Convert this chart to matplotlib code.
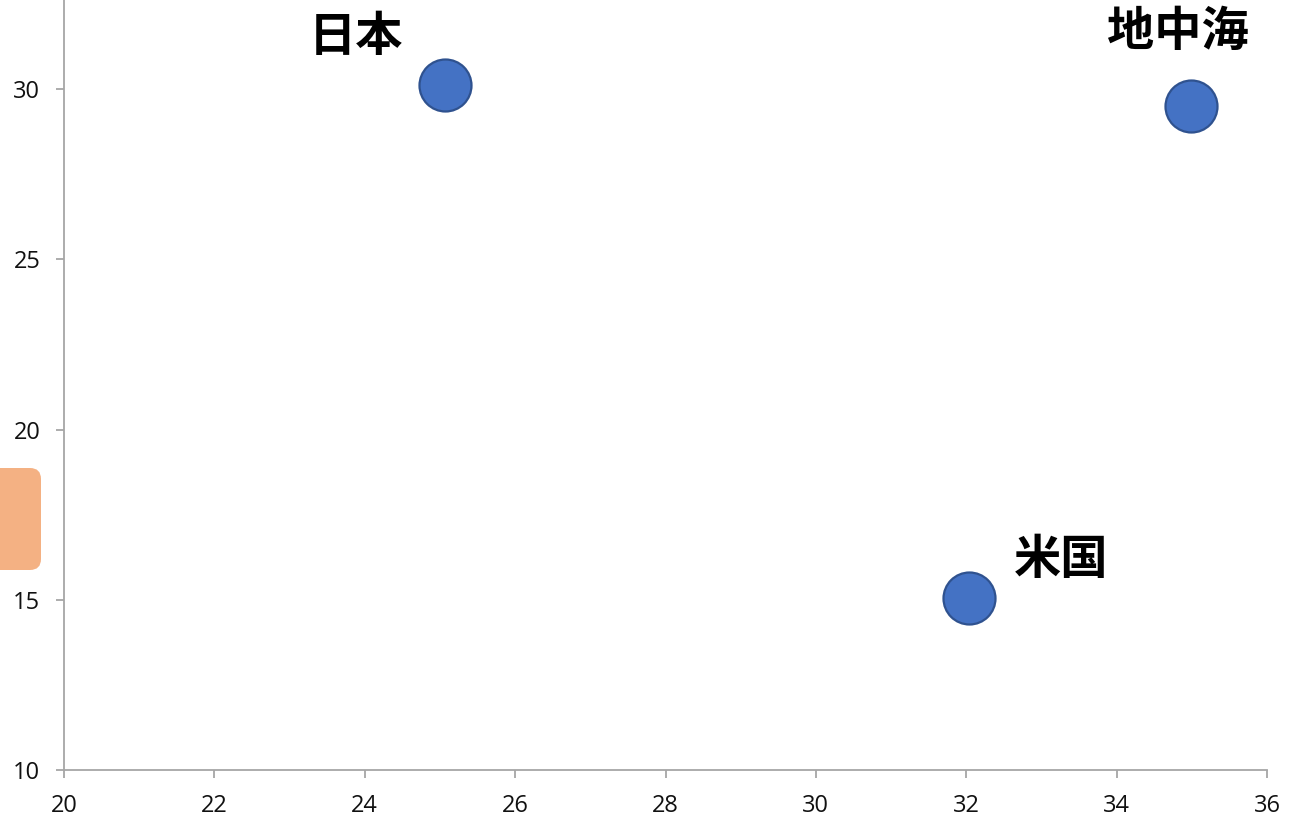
import matplotlib
matplotlib.use("Agg")
import matplotlib.pyplot as plt
from matplotlib.patches import FancyBboxPatch
from matplotlib.transforms import IdentityTransform

# 地域ごとの座標
regions = ["日本", "地中海", "米国"]
x_vals = [25.07, 34.99, 32.03]
y_vals = [30.13, 29.49, 15.06]

x_ticks = [20, 22, 24, 26, 28, 30, 32, 34, 36]
y_ticks = [10, 15, 20, 25, 30]

# ラベルの位置(マーカーからのずれ, px)
label_offsets = {"日本": (-89, 48), "地中海": (-13, 74), "米国": (93, 38)}

W, H, DPI = 1293, 819, 100
fig = plt.figure(figsize=(W / DPI, H / DPI), dpi=DPI)
ax = fig.add_axes([64 / W, (H - 770) / H, (1267 - 64) / W, 770 / H])

ax.scatter(x_vals, y_vals, s=(52 * 72 / DPI) ** 2, color="#4472C4",
           edgecolor="#2F528F", linewidth=1.6, zorder=3)

for name, x, y in zip(regions, x_vals, y_vals):
    dx, dy = label_offsets[name]
    ax.annotate(name, (x, y), xytext=(dx * 72 / DPI, dy * 72 / DPI),
                textcoords="offset points", ha="center", va="center",
                fontsize=34, fontweight="bold",
                family=["Noto Sans CJK JP", "DejaVu Sans"])

ax.set_xlim(20, 36)
ax.set_ylim(10, 10 + 770 / 34.05)
ax.set_xticks(x_ticks)
ax.set_yticks(y_ticks)

for side in ("top", "right"):
    ax.spines[side].set_visible(False)
for side in ("left", "bottom"):
    ax.spines[side].set_color("#A6A6A6")
    ax.spines[side].set_linewidth(1.3)
ax.tick_params(direction="out", length=6, width=1.3, color="#A6A6A6",
               labelsize=17, labelcolor="#111111")
ax.tick_params(axis="x", pad=11)
ax.tick_params(axis="y", pad=11)
for lbl in ax.get_xticklabels() + ax.get_yticklabels():
    lbl.set_family(["Open Sans", "DejaVu Sans"])

# 左端のオレンジの図形
box = FancyBboxPatch((-30, H - 570), 71, 102,
                     boxstyle="round,pad=0,rounding_size=11",
                     transform=IdentityTransform(), facecolor="#F4B183",
                     edgecolor="none", clip_on=False)
fig.patches.append(box)

fig.savefig("out.png", dpi=DPI)
